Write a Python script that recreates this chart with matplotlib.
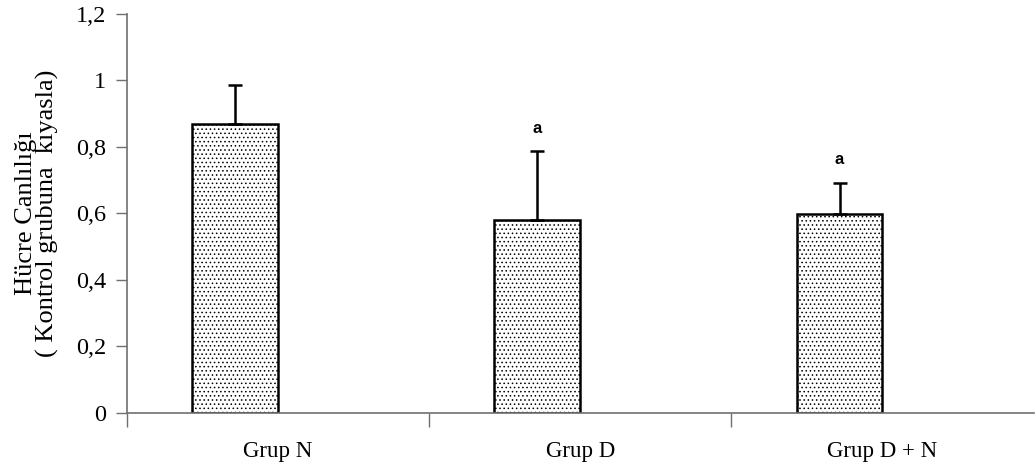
import numpy as np
import matplotlib.pyplot as plt
import matplotlib.ticker as mticker

plt.rcParams['font.family'] = ['Liberation Serif', 'DejaVu Serif']
plt.rcParams['hatch.linewidth'] = 0.6
plt.rcParams['hatch.color'] = '#8a8a8a'

gruplar = ["Grup N", "Grup D", "Grup D + N"]
ortalama = [0.868, 0.580, 0.597]
hata = [0.118, 0.207, 0.094]
isaret = ["", "a", "a"]

fig = plt.figure(figsize=(10.36, 4.76), dpi=100)
ax = fig.add_axes([0.1226, 0.1324, 0.875, 0.8382])

merkez = np.arange(len(gruplar)) + 0.5
genislik = 0.284
xb = merkez - genislik
ax.bar(xb, ortalama, width=genislik, align='edge', color='white',
       edgecolor='black', linewidth=1.8, hatch='....', zorder=2)
ax.errorbar(xb + genislik / 2, ortalama, yerr=[np.zeros(3), hata], fmt='none',
            ecolor='black', elinewidth=1.8, capsize=5, capthick=1.8, zorder=3)
for x, y, e, s in zip(xb + genislik / 2, ortalama, hata, isaret):
    if s:
        ax.text(x, y + e + 0.07, s, ha='center', va='center', fontsize=12,
                fontweight='bold', family=['Liberation Sans Narrow', 'Liberation Sans'])

ax.set_xlim(0, 3)
ax.set_ylim(0, 1.2)
ax.set_yticks(np.arange(0, 1.21, 0.2))
ax.yaxis.set_major_formatter(mticker.FuncFormatter(
    lambda v, p: ("%g" % round(v, 1)).replace('.', ',')))
ax.set_xticks([0, 1, 2])
ax.set_xticklabels([])
ax.set_xticks(merkez, minor=True)
ax.set_xticklabels(gruplar, minor=True, fontsize=16.5)
ax.tick_params(axis='x', which='minor', length=0, pad=20)
ax.tick_params(axis='x', which='major', direction='out', length=10, width=1, color='#707070')
ax.tick_params(axis='y', direction='out', length=8, width=1, color='#707070', labelsize=17.5, pad=7)

for s in ['top', 'right']:
    ax.spines[s].set_visible(False)
for s in ['left', 'bottom']:
    ax.spines[s].set_color('#707070')
    ax.spines[s].set_linewidth(1.2)

ax.set_ylabel("Hücre Canlılığı\n( Kontrol grubuna  kıyasla)", fontsize=19,
              linespacing=0.95, labelpad=12)

fig.savefig("out.png", dpi=100)
